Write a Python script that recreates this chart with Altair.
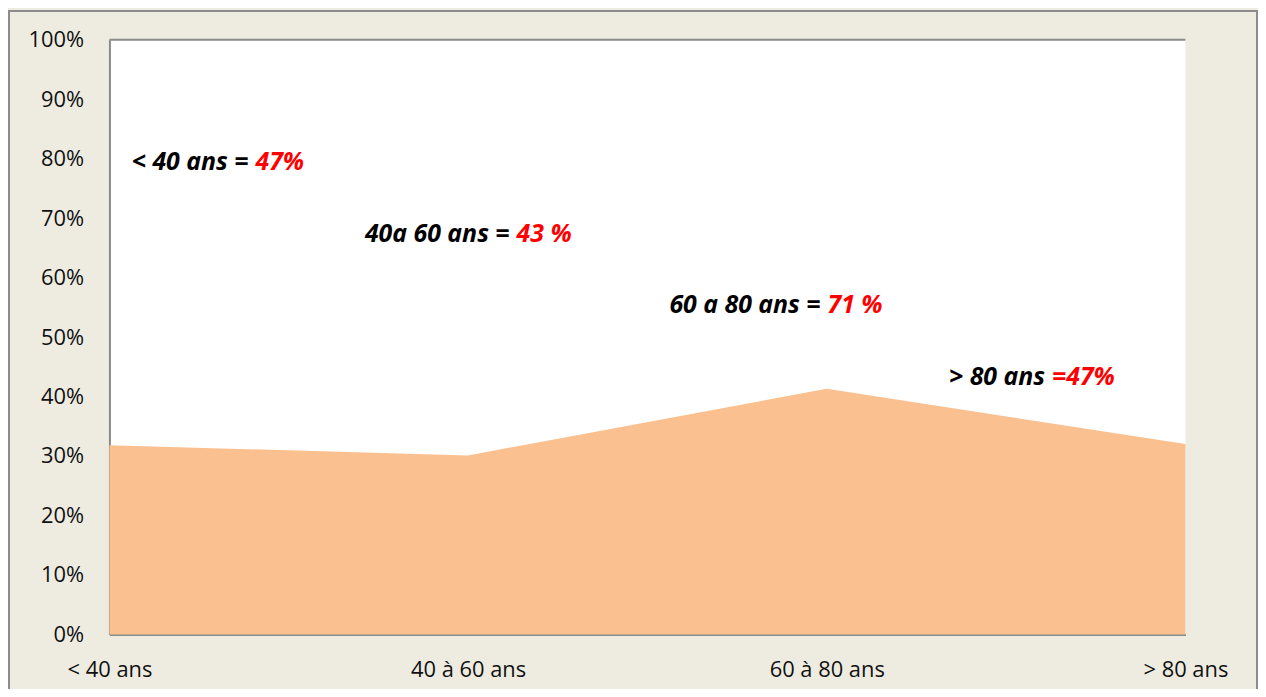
import altair as alt
import pandas as pd

categories = ["< 40 ans", "40 à 60 ans", "60 à 80 ans", "> 80 ans"]
positions = [0, 1, 2, 3]
values = [0.318, 0.301, 0.413, 0.32]

ann_black = ["< 40 ans =", "40a 60 ans =", "60 a 80 ans =", "> 80 ans"]
ann_red = ["47%", "43 %", "71 %", "=47%"]
ann_x = [0.396, 1.124, 1.991, 2.617]
ann_y = [0.781, 0.6605, 0.540, 0.4197]

W, H = 1082, 598
FONT = "Open Sans"

df = pd.DataFrame({"pos": positions, "value": values, "cat": categories})
ann = pd.DataFrame({"x": ann_x, "y": ann_y, "black": ann_black, "red": ann_red})

label_expr = "[" + ",".join("'" + c + "'" for c in categories) + "][datum.value]"

x_scale = alt.Scale(domain=[0, 3], nice=False, zero=False)
y_scale = alt.Scale(domain=[0, 1], nice=False)

area = alt.Chart(df).mark_area(color="#FAC090", opacity=1).encode(
    x=alt.X("pos:Q", scale=x_scale, title=None,
            axis=alt.Axis(values=positions, labelExpr=label_expr, grid=False,
                          ticks=False, tickSize=0, labelPadding=25,
                          labelFontSize=22, labelFont=FONT, labelColor="#111111",
                          labelOverlap=False, labelFlush=False, labelBound=False,
                          domainColor="#8a8a8a", domainWidth=2, labelAngle=0)),
    y=alt.Y("value:Q", scale=y_scale, title=None,
            axis=alt.Axis(values=[i / 10 for i in range(11)], format=".0%", grid=False,
                          ticks=False, tickSize=0, labelPadding=26,
                          labelFontSize=22, labelFont=FONT, labelColor="#111111",
                          labelOverlap=False, labelFlush=False, labelBound=False,
                          domainColor="#8a8a8a", domainWidth=2)),
)

top_line = alt.Chart(pd.DataFrame({"a": [0]})).mark_rule(color="#8a8a8a", strokeWidth=2).encode(
    x=alt.value(0), x2=alt.value(W), y=alt.value(0)
)

border = alt.Chart(pd.DataFrame({"a": [0]})).mark_rect(
    filled=False, stroke="#8c8c8c", strokeWidth=2
).encode(
    x=alt.value(-101), x2=alt.value(W + 72), y=alt.value(-29), y2=alt.value(H + 200)
)

txt_black = alt.Chart(ann).mark_text(
    align="right", baseline="alphabetic", font=FONT, fontSize=25,
    fontWeight="bold", fontStyle="italic", color="#000000", dx=-3
).encode(x=alt.X("x:Q", scale=x_scale), y=alt.Y("y:Q", scale=y_scale), text="black:N")

txt_red = alt.Chart(ann).mark_text(
    align="left", baseline="alphabetic", font=FONT, fontSize=25,
    fontWeight="bold", fontStyle="italic", color="#FF0000", dx=4
).encode(x=alt.X("x:Q", scale=x_scale), y=alt.Y("y:Q", scale=y_scale), text="red:N")

chart = alt.layer(area, top_line, txt_black, txt_red, border).properties(
    width=W, height=H,
    autosize=alt.AutoSizeParams(type="none"),
    padding={"left": 102, "top": 30, "right": 73, "bottom": 53},
    background="#EEECE1",
).configure_view(fill="white", stroke=None)

chart.save("out.html", embed_options={"renderer": "svg", "actions": False})
